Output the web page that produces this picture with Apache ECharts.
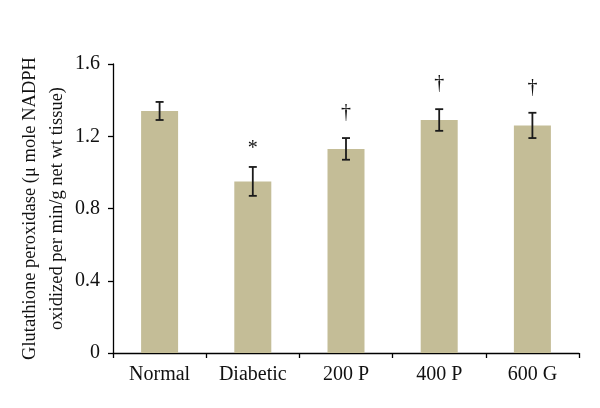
<!DOCTYPE html>
<html>
<head>
<meta charset="utf-8">
<script src="https://cdn.jsdelivr.net/npm/echarts@6/dist/echarts.min.js"></script>
<style>html,body{margin:0;padding:0;background:#fff}#c{width:600px;height:408px}</style>
</head>
<body>
<div id="c"></div>
<script>
var categories = ['Normal', 'Diabetic', '200 P', '400 P', '600 G'];
var values = [1.34, 0.95, 1.13, 1.29, 1.26];
var errors = [0.05, 0.08, 0.06, 0.06, 0.07];
var marks = ['', '*', '†', '†', '†'];
var yTicks = [0, 0.4, 0.8, 1.2, 1.6];

var font = '"Liberation Serif", "Times New Roman", serif';
var chart = echarts.init(document.getElementById('c'), null, {renderer: 'canvas'});
var errData = categories.map(function (c, i) { return [i, values[i], errors[i], marks[i]]; });

chart.setOption({
  animation: false,
  grid: {left: 113, right: 21, top: 64, bottom: 55},
  xAxis: {
    type: 'category',
    data: categories,
    boundaryGap: true,
    axisLine: {lineStyle: {color: '#000', width: 1.3}},
    axisTick: {show: true, length: 5, lineStyle: {color: '#000', width: 1.3}},
    axisLabel: {color: '#111', fontFamily: font, fontSize: 20, margin: 12}
  },
  yAxis: {
    type: 'value',
    min: yTicks[0],
    max: yTicks[yTicks.length - 1],
    interval: 0.4,
    splitLine: {show: false},
    axisLine: {show: true, lineStyle: {color: '#000', width: 1.3}},
    axisTick: {show: true, length: 5, lineStyle: {color: '#000', width: 1.3}},
    axisLabel: {color: '#111', fontFamily: font, fontSize: 20, margin: 13,
      formatter: function (v) { return String(v); }},
    name: 'Glutathione peroxidase (\u03bc mole NADPH\noxidized per min/g net wt tissue)',
    nameLocation: 'middle',
    nameRotate: 90,
    nameGap: 42,
    nameMoveOverlap: false,
    nameTextStyle: {color: '#111', fontFamily: font, fontSize: 18.5, lineHeight: 27}
  },
  series: [
    {
      type: 'bar',
      data: values,
      barWidth: 37,
      itemStyle: {color: '#c4bd97'}
    },
    {
      type: 'custom',
      data: errData,
      z: 10,
      renderItem: function (params, api) {
        var x = api.value(0), v = api.value(1), e = api.value(2);
        var top = api.coord([x, v + e]);
        var bot = api.coord([x, v - e]);
        var cx = top[0];
        var hw = 4;
        var st = {stroke: '#1a1a1a', lineWidth: 1.8};
        var children = [
          {type: 'line', shape: {x1: cx, y1: top[1], x2: cx, y2: bot[1]}, style: st},
          {type: 'line', shape: {x1: cx - hw, y1: top[1], x2: cx + hw, y2: top[1]}, style: st},
          {type: 'line', shape: {x1: cx - hw, y1: bot[1], x2: cx + hw, y2: bot[1]}, style: st}
        ];
        var m = marks[params.dataIndex];
        if (m) {
          var isStar = m === '*';
          children.push({
            type: 'text',
            style: {
              text: m, x: cx, y: top[1] - (isStar ? 18 : 25),
              textAlign: 'center', textVerticalAlign: 'middle',
              fill: '#111', font: '20px ' + font
            }
          });
        }
        return {type: 'group', children: children};
      }
    }
  ]
});
</script>
</body>
</html>
